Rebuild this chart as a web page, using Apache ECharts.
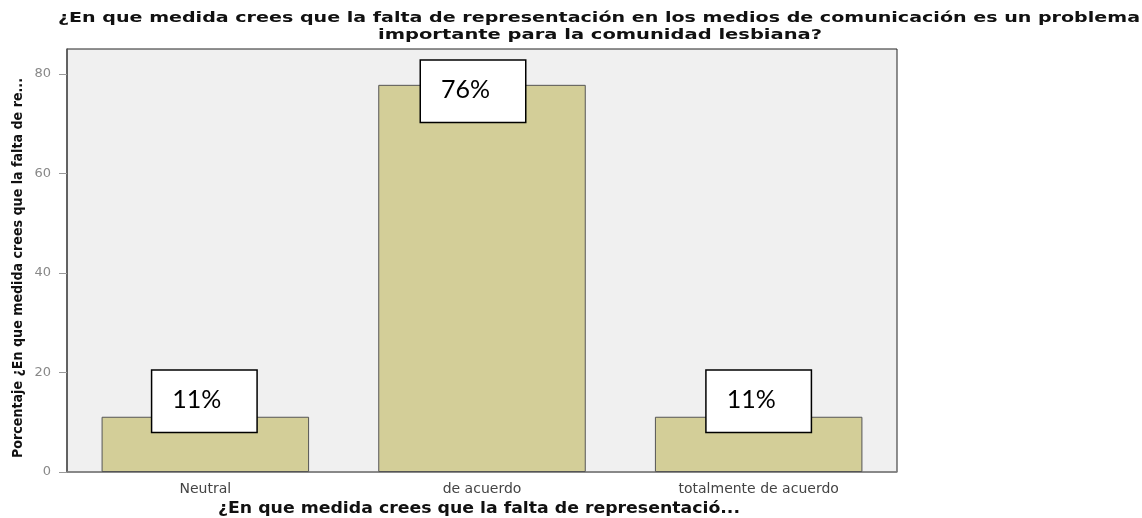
<!DOCTYPE html>
<html>
<head>
<meta charset="utf-8">
<script src="https://cdn.jsdelivr.net/npm/echarts@6/dist/echarts.min.js"></script>
<style>
  html, body { margin: 0; padding: 0; background: #fff; }
  #chart { width: 1142px; height: 518px; }
</style>
</head>
<body>
<div id="chart"></div>
<script>
'use strict';

var categories = ['Neutral', 'de acuerdo', 'totalmente de acuerdo'];
var percentages = [11.1, 77.8, 11.1];
var boxLabels = ['11%', '76%', '11%'];
var yTicks = [0, 20, 40, 60, 80];

var titleLines = [
    '¿En que medida crees que la falta de representación en los medios de comunicación es un problema',
    'importante para la comunidad lesbiana?'
];
var xName = '¿En que medida crees que la falta de representació...';
var yName = 'Porcentaje ¿En que medida crees que la falta de re...';

// where each overlay box sits relative to the top of its bar
var boxOffsets = [[-53, 15], [-61, 37], [-52, 15]];

var chart = echarts.init(document.getElementById('chart'));

// the original export is stretched sideways, so texts are squeezed/stretched to fit
var ctx = document.createElement('canvas').getContext('2d');
function stretchText(text, size, family, weight, cx, cy, width, rot, color) {
    ctx.font = weight + ' ' + size + 'px "' + family + '"';
    var s = width / ctx.measureText(text).width;
    return {
        type: 'text',
        x: cx,
        y: cy,
        rotation: rot || 0,
        scaleX: s,
        silent: true,
        style: {
            text: text,
            fontSize: size,
            fontFamily: family,
            fontWeight: weight,
            fill: color || '#111',
            align: 'center',
            verticalAlign: 'middle'
        }
    };
}

var seriesData = percentages.map(function(v, i) {
    return {
        value: v,
        label: {
            offset: boxOffsets[i],
            formatter: boxLabels[i]
        }
    };
});

chart.setOption({
    animation: false,
    graphic: [
        stretchText(titleLines[0], 14, 'DejaVu Sans', 'bold', 599, 18, 1082),
        stretchText(titleLines[1], 14, 'DejaVu Sans', 'bold', 600, 35, 444),
        stretchText(xName, 15, 'DejaVu Sans', 'bold', 479, 509, 522),
        stretchText(yName, 14, 'DejaVu Sans', 'bold', 18, 268, 380, Math.PI / 2)
    ],
    grid: {
        left: 67,
        right: 245,
        top: 49,
        bottom: 46,
        show: true,
        backgroundColor: '#f0f0f0',
        borderColor: '#222',
        borderWidth: 1
    },
    xAxis: {
        type: 'category',
        data: categories,
        axisLine: { lineStyle: { color: '#888', width: 1.5 } },
        axisTick: { alignWithLabel: true, length: 7, lineStyle: { color: '#444' } },
        axisLabel: {
            fontFamily: 'DejaVu Sans',
            fontSize: 14,
            color: '#444',
            margin: 10
        }
    },
    yAxis: {
        type: 'value',
        min: 0,
        max: 85,
        interval: 20,
        splitLine: { show: false },
        axisLine: { show: true, lineStyle: { color: '#555', width: 1.5 } },
        axisTick: { show: true, length: 8, lineStyle: { color: '#999' } },
        axisLabel: {
            showMaxLabel: false,
            fontFamily: 'DejaVu Sans',
            fontSize: 13,
            color: '#888',
            margin: 16,
            formatter: function(v) {
                return yTicks.indexOf(v) >= 0 ? String(v) : '';
            }
        }
    },
    series: [{
        type: 'bar',
        data: seriesData,
        barWidth: '75%',
        itemStyle: {
            color: '#d3ce98',
            borderColor: '#555',
            borderWidth: 1
        },
        label: {
            show: true,
            position: 'top',
            distance: 0,
            fontFamily: 'Lato',
            fontSize: 25,
            color: '#000',
            backgroundColor: '#fff',
            borderColor: '#000',
            borderWidth: 1.5,
            width: 54,
            height: 30,
            lineHeight: 30,
            align: 'left',
            padding: [14, 30, 17, 20]
        }
    }]
});
</script>
</body>
</html>
